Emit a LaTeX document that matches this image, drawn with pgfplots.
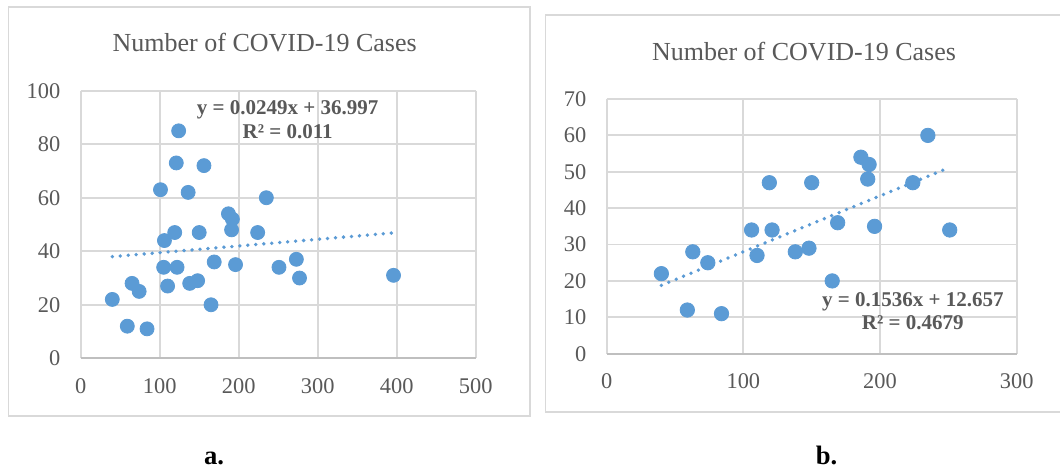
\documentclass[border=0pt]{standalone}
\usepackage{fontspec}
\setmainfont{Liberation Serif}
\usepackage{pgfplots}
\pgfplotsset{compat=1.18}
\definecolor{ptblue}{HTML}{5B9BD5}
\definecolor{gridgray}{HTML}{D9D9D9}
\definecolor{axgray}{HTML}{BFBFBF}
\definecolor{txtgray}{HTML}{595959}
\pgfplotsset{
  excelscatter/.style={
    scale only axis,
    axis line style={draw=none},
    grid=major,
    major grid style={draw=gridgray, line width=0.9pt},
    major tick length=0pt,
    tick style={draw=none},
    /pgf/number format/assume math mode=true,
    ticklabel style={font=\fontsize{11.2}{13}\selectfont, text=txtgray},
    yticklabel style={inner sep=0pt, xshift=-10pt},
    xticklabel style={inner sep=0pt, yshift=-10pt},
    clip=false,
  }
}
\begin{document}
\begin{tikzpicture}
\useasboundingbox (0,0) rectangle (530pt,235pt);
\fill[white] (0,0) rectangle (530pt,235pt);
% panel boxes
\draw[gridgray, line width=0.8pt] (4.3pt,27pt) rectangle (265pt,231.5pt);
\draw[gridgray, line width=0.8pt] (272.8pt,28.9pt) rectangle (532pt,227.5pt);
% ---------- panel a ----------
\begin{axis}[excelscatter,
  at={(40.35pt,55.85pt)}, anchor=south west,
  width=197.5pt, height=133.8pt,
  xmin=0, xmax=500, ymin=0, ymax=100,
  xtick={0,100,...,500}, ytick={0,20,...,100},
]
\draw[axgray, line width=0.9pt] (axis cs:0,0) -- (axis cs:500,0);
\addplot[only marks, mark=*, mark size=3.5pt, ptblue, mark options={draw=ptblue, fill=ptblue}] coordinates {
(40,22) (59,12) (65,28) (74,25) (84,11) (101,63) (106,44) (105,34) (110,27)
(119,47) (121,73) (122,34) (124,85) (136,62) (138,28) (148,29) (150,47)
(156,72) (165,20) (169,36) (187,54) (192,52) (191,48) (196,35) (224,47)
(235,60) (251,34) (273,37) (277,30) (396,31)
};
\addplot[ptblue, line width=1.9pt, line cap=round, dash pattern=on 0pt off 4pt] coordinates {
(40,37.99) (396,46.86)
};
\node[font=\bfseries\fontsize{10.5}{11.8}\selectfont, text=txtgray, align=center] at (axis cs:262,89.1) {y = 0.0249x + 36.997\\R² = 0.011};
\end{axis}
% ---------- panel b ----------
\begin{axis}[excelscatter,
  at={(303.35pt,58.15pt)}, anchor=south west,
  width=205pt, height=127.35pt,
  xmin=0, xmax=300, ymin=0, ymax=70,
  xtick={0,100,200,300}, ytick={0,10,...,70},
]
\draw[axgray, line width=0.9pt] (axis cs:0,0) -- (axis cs:300,0);
\addplot[only marks, mark=*, mark size=3.6pt, ptblue, mark options={draw=ptblue, fill=ptblue}] coordinates {
(40,22) (59,12) (63,28) (74,25) (84,11) (106,34) (110,27) (119,47) (121,34)
(138,28) (148,29) (150,47) (165,20) (169,36) (186,54) (192,52) (191,48)
(196,35) (224,47) (235,60) (251,34)
};
\addplot[ptblue, line width=1.9pt, line cap=round, dash pattern=on 0pt off 4pt] coordinates {
(40,18.80) (251,51.21)
};
\node[font=\bfseries\fontsize{10.5}{11.8}\selectfont, text=txtgray, align=center] at (axis cs:224,11.7) {y = 0.1536x + 12.657\\R² = 0.4679};
\end{axis}
% titles
\node[font=\fontsize{13}{15}\selectfont, text=txtgray] at (132.35pt,213.5pt) {Number of COVID-19 Cases};
\node[font=\fontsize{13}{15}\selectfont, text=txtgray] at (402pt,209pt) {Number of COVID-19 Cases};
% panel labels
\node[font=\bfseries\fontsize{13.3}{15}\selectfont, anchor=base, inner sep=0pt] at (107pt,2.5pt) {a.};
\node[font=\bfseries\fontsize{13.3}{15}\selectfont, anchor=base, inner sep=0pt] at (413.3pt,2.5pt) {b.};
\end{tikzpicture}
\end{document}
